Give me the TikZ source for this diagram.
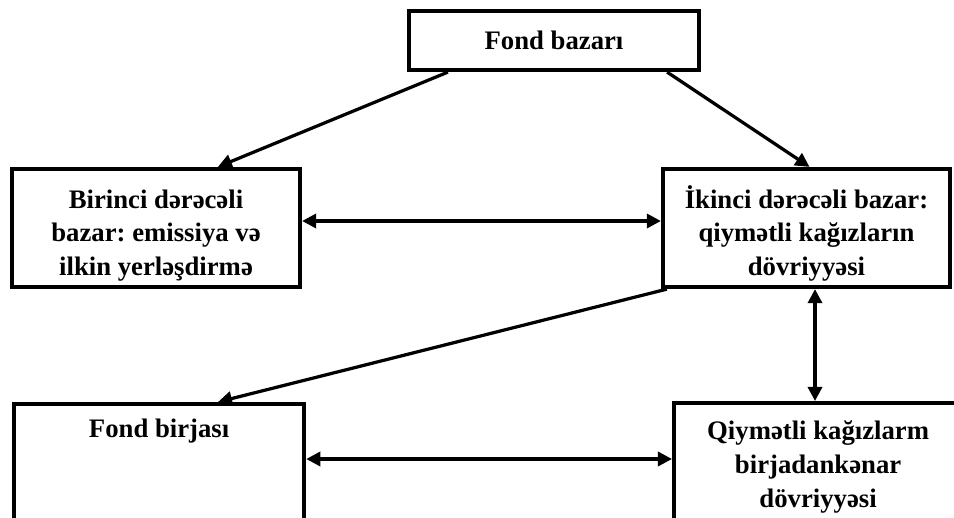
\documentclass[tikz,border=0pt]{standalone}
\usepackage{fontspec}
\setmainfont{Liberation Serif}
\usetikzlibrary{arrows.meta,positioning}
\newcommand{\unitsize}{0.025cm}
\newcommand{\toppad}{\rule{0pt}{24pt}}
\frenchspacing

\begin{document}
\begin{tikzpicture}
\useasboundingbox (0,0) rectangle (954*\unitsize,-518*\unitsize);
\clip (0,0) rectangle (954*\unitsize,-518*\unitsize);
\tikzstyle{box}=[draw,
			rectangle,
			line width=3pt,
			align=center,
			inner sep=0pt,
			font=\fontsize{19}{24}\selectfont\bfseries\frenchspacing
			]
\tikzstyle{caption}=[align=center, font=\fontsize{19}{24}\selectfont\bfseries\frenchspacing]
\tikzstyle{link}=[line width=2.3pt, -{Triangle[length=10pt,width=10pt]}]
\tikzstyle{twoway}=[line width=2.3pt, {Triangle[length=10pt,width=10pt]}-{Triangle[length=10pt,width=10pt]}]


\node[box, minimum width=290*\unitsize, minimum height=59*\unitsize] (market) at (554*\unitsize,-40.5*\unitsize) {Fond bazarı};


\node[box, minimum width=288*\unitsize, minimum height=118*\unitsize] (primary) at (156*\unitsize,-228*\unitsize) {\toppad Birinci dərəcəli\\bazar: emissiya və\\ilkin yerləşdirmə};


\node[box, minimum width=287*\unitsize, minimum height=118*\unitsize] (secondary) at (806.5*\unitsize,-228*\unitsize) {\toppad İkinci dərəcəli bazar:\\qiymətli kağızların\\dövriyyəsi};


\node[box, minimum width=290*\unitsize, minimum height=160*\unitsize, anchor=north west] (exchange) at (12*\unitsize,-402*\unitsize) {};

\node[caption, below=12*\unitsize of exchange.north] (exchangetext) {Fond birjası};


\node[box, minimum width=288*\unitsize, minimum height=160*\unitsize, anchor=north west] (otc) at (672*\unitsize,-401*\unitsize) {};

\node[caption, below=15*\unitsize of otc.north] (otctext) {Qiymətli kağızlarm\\birjadankənar\\dövriyyəsi};


\draw[link] ([xshift=41*\unitsize]market.south west) -- ([xshift=208*\unitsize]primary.north west);

\draw[link] ([xshift=-34*\unitsize]market.south east) -- ([xshift=3*\unitsize]secondary.north);

\draw[twoway] ([yshift=7*\unitsize]primary.east) -- ([yshift=7*\unitsize]secondary.west);

\draw[link] ([xshift=6*\unitsize]secondary.south west) -- ([xshift=206*\unitsize]exchange.north west);

\coordinate (vert) at ([xshift=8.5*\unitsize]secondary.south);
\draw[twoway] (vert) -- (vert |- otc.north);

\coordinate (bottom) at ([yshift=-57*\unitsize]exchange.north east);
\draw[twoway] (bottom) -- (bottom -| otc.west);

\end{tikzpicture}
\end{document}
